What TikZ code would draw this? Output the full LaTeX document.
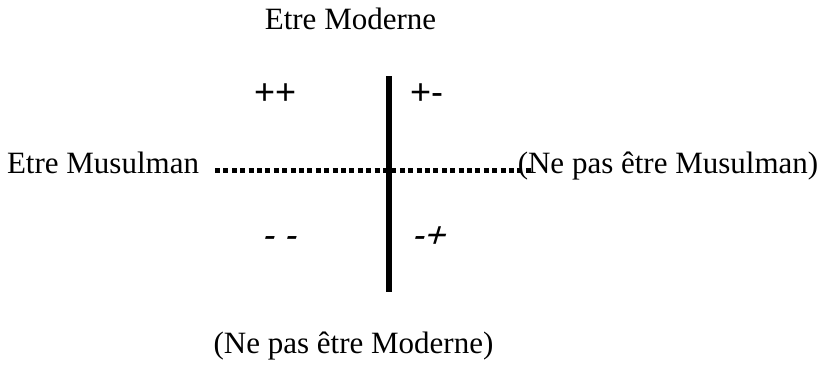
\documentclass[tikz,border=0pt]{standalone}
\usepackage{fontspec}
\setmainfont{Liberation Serif}
\newfontfamily\signfont{Liberation Sans}
\newfontfamily\signitfont{Liberation Sans}[FakeSlant=0.3]
\begin{document}
\begin{tikzpicture}[x=1pt,y=-1pt,
  axislabel/.style={inner sep=0pt,anchor=base,font=\fontsize{31}{36}\selectfont},
  signlabel/.style={inner sep=0pt,anchor=base west,font=\signfont\fontsize{36}{40}\selectfont},
  signit/.style={inner sep=0pt,anchor=base west,font=\signitfont\fontsize{36}{40}\selectfont},
  modaxis/.style={line width=6pt},
  musaxis/.style={line width=5pt,dash pattern=on 5pt off 3.4pt}]
\useasboundingbox (0,0) rectangle (819,364);
\node[axislabel] (mod) at (350.5,29) {Etre Moderne};
\node[axislabel] (mus) at (103,173) {Etre Musulman};
\node[axislabel] (nmus) at (668,173) {(Ne pas être Musulman)};
\node[axislabel] (nmod) at (353.5,353) {(Ne pas être Moderne)};
\node[signlabel] (pp) at (254,104) {++};
\node[signlabel] (pm) at (410,104) {+-};
\node[signit] (mm) at (261,247) {- -};
\node[signit] (mp) at (411,247) {-+};
\coordinate (ht) at (215,170);
\coordinate (hb) at (533,170);
\coordinate (vt) at (389,76);
\coordinate (vb) at (389,292);
\draw[musaxis] (ht) -- (hb);
\draw[modaxis] (vt) -- (vb);
\end{tikzpicture}
\end{document}
